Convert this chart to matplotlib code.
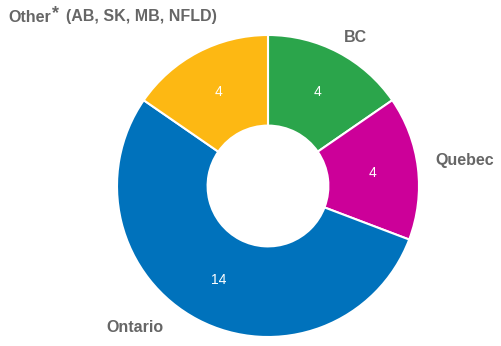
import matplotlib
matplotlib.use("Agg")
from matplotlib import pyplot as plt

plt.rcParams['font.family'] = ['Liberation Sans', 'DejaVu Sans']

regions = ["BC", "Quebec", "Ontario", "Other"]
counts = [4, 4, 14, 4]
colors = ["#2ba54b", "#cc0099", "#0072bc", "#fdb813"]

W, H = 502, 346
fig = plt.figure(figsize=(W / 100, H / 100), dpi=100)
ax = fig.add_axes([0, 0, 1, 1])

cx, cy, r = 268, H - 186, 151
wedges, texts, autotexts = ax.pie(
    counts, colors=colors, startangle=90, counterclock=False,
    center=(cx, cy), radius=r,
    autopct=lambda p: '{:.0f}'.format(p * sum(counts) / 100),
    pctdistance=0.70,
    wedgeprops=dict(width=r * 0.6, edgecolor='white', linewidth=1.5),
    textprops=dict(color='white', fontsize=10),
    frame=True)
ax.set_xlim(0, W)
ax.set_ylim(0, H)
ax.set_aspect('equal')
ax.axis('off')

lab = dict(color='#666666', fontsize=11.5, fontweight='bold')
ax.text(355, H - 38, "BC", ha='center', va='center', **lab)
ax.text(465, H - 160, "Quebec", ha='center', va='center', **lab)
ax.text(135, H - 327, "Ontario", ha='center', va='center', **lab)
ax.text(8, H - 17, "Other", ha='left', va='center', **lab)
ax.text(52, H - 14, "*", ha='left', va='center', color='#666666', fontsize=13, fontweight='bold')
ax.text(66, H - 17, "(AB, SK, MB, NFLD)", ha='left', va='center', **lab)

fig.savefig("out.png", dpi=100)
